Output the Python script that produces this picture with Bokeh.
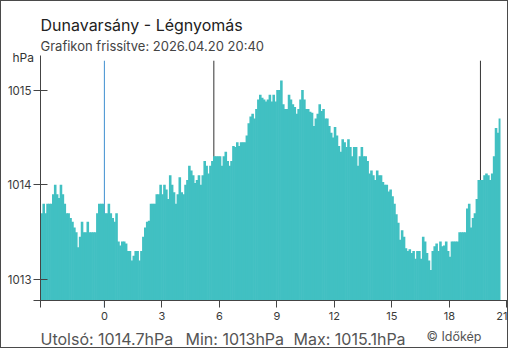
from bokeh.plotting import figure
from bokeh.models import Range1d, Label, FixedTicker, ColumnDataSource
from bokeh.embed import file_html
from bokeh.resources import INLINE

# ---- data ----
title_text = "Dunavarsány - Légnyomás"
subtitle_text = "Grafikon frissítve: 2026.04.20 20:40"
unit_text = "hPa"
stats_texts = ["Utolsó: 1014.7hPa", "Min: 1013hPa", "Max: 1015.1hPa"]
credit_text = "© Időkép"

start_hour = -10.0 / 3.0      # 20:40 of the previous day
step_hour = 0.1               # 6-minute readings
pressure = [
    1013.70, 1013.80, 1013.70, 1013.80, 1013.80, 1013.80, 1013.90, 1014.00, 1013.90, 1013.86,
    1014.00, 1013.90, 1013.80, 1013.70, 1013.70, 1013.65, 1013.61, 1013.55, 1013.50, 1013.34,
    1013.45, 1013.61, 1013.50, 1013.50, 1013.61, 1013.50, 1013.50, 1013.50, 1013.50, 1013.70,
    1013.80, 1013.80, 1013.80, 1013.70, 1013.70, 1013.80, 1013.70, 1013.65, 1013.61, 1013.70,
    1013.40, 1013.36, 1013.40, 1013.40, 1013.38, 1013.30, 1013.30, 1013.20, 1013.25, 1013.30,
    1013.30, 1013.20, 1013.30, 1013.45, 1013.55, 1013.61, 1013.62, 1013.80, 1013.80, 1013.80,
    1013.90, 1013.90, 1014.00, 1013.90, 1014.00, 1013.95, 1013.85, 1014.10, 1014.00, 1013.92,
    1013.80, 1013.90, 1014.08, 1013.92, 1013.90, 1014.00, 1014.05, 1014.20, 1014.15, 1014.10,
    1014.02, 1014.05, 1014.10, 1014.00, 1014.10, 1014.25, 1014.20, 1014.12, 1014.20, 1014.25,
    1014.30, 1014.30, 1014.30, 1014.30, 1014.20, 1014.30, 1014.35, 1014.25, 1014.20, 1014.25,
    1014.41, 1014.40, 1014.45, 1014.41, 1014.45, 1014.45, 1014.45, 1014.52, 1014.65, 1014.72,
    1014.75, 1014.70, 1014.80, 1014.90, 1014.95, 1014.92, 1014.90, 1014.88, 1014.90, 1014.95,
    1014.88, 1014.95, 1014.88, 1015.00, 1015.00, 1015.10, 1014.85, 1014.80, 1014.80, 1014.95,
    1014.90, 1014.85, 1014.82, 1014.75, 1014.80, 1014.90, 1015.00, 1014.90, 1014.80, 1014.80,
    1014.77, 1014.76, 1014.62, 1014.70, 1014.75, 1014.85, 1014.78, 1014.80, 1014.70, 1014.70,
    1014.62, 1014.55, 1014.50, 1014.61, 1014.52, 1014.41, 1014.35, 1014.48, 1014.45, 1014.40,
    1014.48, 1014.40, 1014.30, 1014.40, 1014.40, 1014.20, 1014.30, 1014.40, 1014.30, 1014.30,
    1014.25, 1014.12, 1014.15, 1014.10, 1014.05, 1014.15, 1014.10, 1014.10, 1014.03, 1014.00,
    1014.00, 1013.93, 1013.95, 1013.88, 1013.80, 1013.69, 1013.60, 1013.42, 1013.52, 1013.45,
    1013.33, 1013.30, 1013.32, 1013.28, 1013.30, 1013.22, 1013.30, 1013.30, 1013.22, 1013.45,
    1013.40, 1013.28, 1013.20, 1013.10, 1013.30, 1013.35, 1013.38, 1013.30, 1013.40, 1013.35,
    1013.36, 1013.40, 1013.30, 1013.24, 1013.40, 1013.40, 1013.40, 1013.40, 1013.50, 1013.50,
    1013.50, 1013.50, 1013.75, 1013.80, 1013.55, 1013.65, 1013.70, 1013.85, 1014.05, 1014.05,
    1014.05, 1014.10, 1014.12, 1014.10, 1014.05, 1014.12, 1014.30, 1014.60, 1014.55, 1014.70,
]

x_ticks = [-10.0 / 3.0, 0, 3, 6, 9, 12, 15, 18, 21]
x_tick_labels = ["", "0", "3", "6", "9", "12", "15", "18", "21"]
y_ticks = [1012.778, 1013, 1014, 1015]
y_tick_labels = ["", "1013", "1014", "1015"]

midnight_hour = 0.0
sunrise_hour = 5.71
sunset_hour = 19.62

axis_x0, axis_x1 = -10.0 / 3.0, 21.2          # extent of the time axis
axis_y0, axis_y1 = 1012.778, 1015.365         # extent of the pressure axis
line_top = 1015.31                            # top of the marker lines

# ---- view geometry (pixels) ----
W, H = 508, 348            # canvas inside a 1px border
PX_PER_HOUR = 19.1667
PX_PER_HPA = 94.7
AXIS_LEFT_PX = 39          # canvas x of the y axis
AXIS_BOTTOM_PX = 299       # canvas y (from top) of the x axis

x_lo = axis_x0 - AXIS_LEFT_PX / PX_PER_HOUR
x_hi = axis_x0 + (W - AXIS_LEFT_PX) / PX_PER_HOUR
y_lo = axis_y0 - (H - AXIS_BOTTOM_PX) / PX_PER_HPA
y_hi = axis_y0 + AXIS_BOTTOM_PX / PX_PER_HPA

FONT = "Inter"
BAR = "#41c0c2"
AXIS = "#444444"

left_edges = [start_hour + i * step_hour for i in range(len(pressure))]
src = ColumnDataSource(dict(
    left=left_edges,
    right=[l + step_hour * 1.35 for l in left_edges],
    top=pressure,
    bottom=[axis_y0] * len(pressure),
))
src.data["right"][-1] = left_edges[-1] + step_hour

p = figure(width=W, height=H, output_backend="svg", toolbar_location=None,
           x_range=Range1d(x_lo, x_hi), y_range=Range1d(y_lo, y_hi),
           min_border=0)
p.styles = {"border": "1px solid #4a4a4a"}
p.title.visible = False
p.background_fill_color = "white"
p.border_fill_color = "white"
p.outline_line_color = None
p.grid.visible = False

# marker lines (behind the bars)
p.segment(x0=[sunrise_hour, sunset_hour], y0=[line_top, line_top],
          x1=[sunrise_hour, sunset_hour], y1=[axis_y0, axis_y0],
          line_color="#333333", line_width=1)

p.quad(left="left", right="right", top="top", bottom="bottom", source=src,
       fill_color=BAR, line_color=None)

# axes drawn at fixed data locations inside the frame
p.xaxis.fixed_location = axis_y0
p.xaxis.bounds = (axis_x0, axis_x1)
p.xaxis.ticker = FixedTicker(ticks=x_ticks)
p.xaxis.major_label_overrides = {t: s for t, s in zip(x_ticks, x_tick_labels)}
p.xaxis.minor_tick_line_color = None
p.xaxis.major_tick_out = 7
p.xaxis.major_tick_in = 0
p.xaxis.axis_line_color = AXIS
p.xaxis.major_tick_line_color = AXIS
p.xaxis.major_label_text_font = FONT
p.xaxis.major_label_text_font_size = "11px"
p.xaxis.major_label_text_color = "#3a3a3a"
p.xaxis.major_label_standoff = 4

p.yaxis.fixed_location = axis_x0
p.yaxis.bounds = (axis_y0, axis_y1)
p.yaxis.ticker = FixedTicker(ticks=y_ticks)
p.yaxis.major_label_overrides = {t: s for t, s in zip(y_ticks, y_tick_labels)}
p.yaxis.minor_tick_line_color = None
p.yaxis.major_tick_out = 7
p.yaxis.major_tick_in = 7
p.yaxis.axis_line_color = AXIS
p.yaxis.major_tick_line_color = AXIS
p.yaxis.major_label_text_font = FONT
p.yaxis.major_label_text_font_size = "11.5px"
p.yaxis.major_label_text_color = "#3a3a3a"
p.yaxis.major_label_standoff = 2

# midnight marker (blue), reaching down over the tick
p.segment(x0=[midnight_hour], y0=[line_top], x1=[midnight_hour],
          y1=[axis_y0 - 7 / PX_PER_HPA], line_color="#3f8fd0", line_width=1)
p.renderers.insert(0, p.renderers.pop())


def add_text(text, img_x, img_baseline, size, color):
    # image pixel -> screen units (frame = canvas, origin bottom-left, 1px border)
    p.add_layout(Label(x=img_x - 1, y=H - (img_baseline - 1),
                       x_units="screen", y_units="screen", text=text,
                       text_font=FONT, text_font_size=size, text_color=color,
                       text_align="left", text_baseline="alphabetic"))


add_text(title_text, 40, 24, "16px", "#222222")
add_text(subtitle_text, 40, 45, "13px", "#444444")
add_text(unit_text, 12, 57, "12px", "#333333")
for txt, sx in zip(stats_texts, [40, 185, 293]):
    add_text(txt, sx, 338, "16px", "#555555")
add_text(credit_text, 426, 336, "12.5px", "#555555")

open("out.html", "w").write(file_html(p, INLINE))
